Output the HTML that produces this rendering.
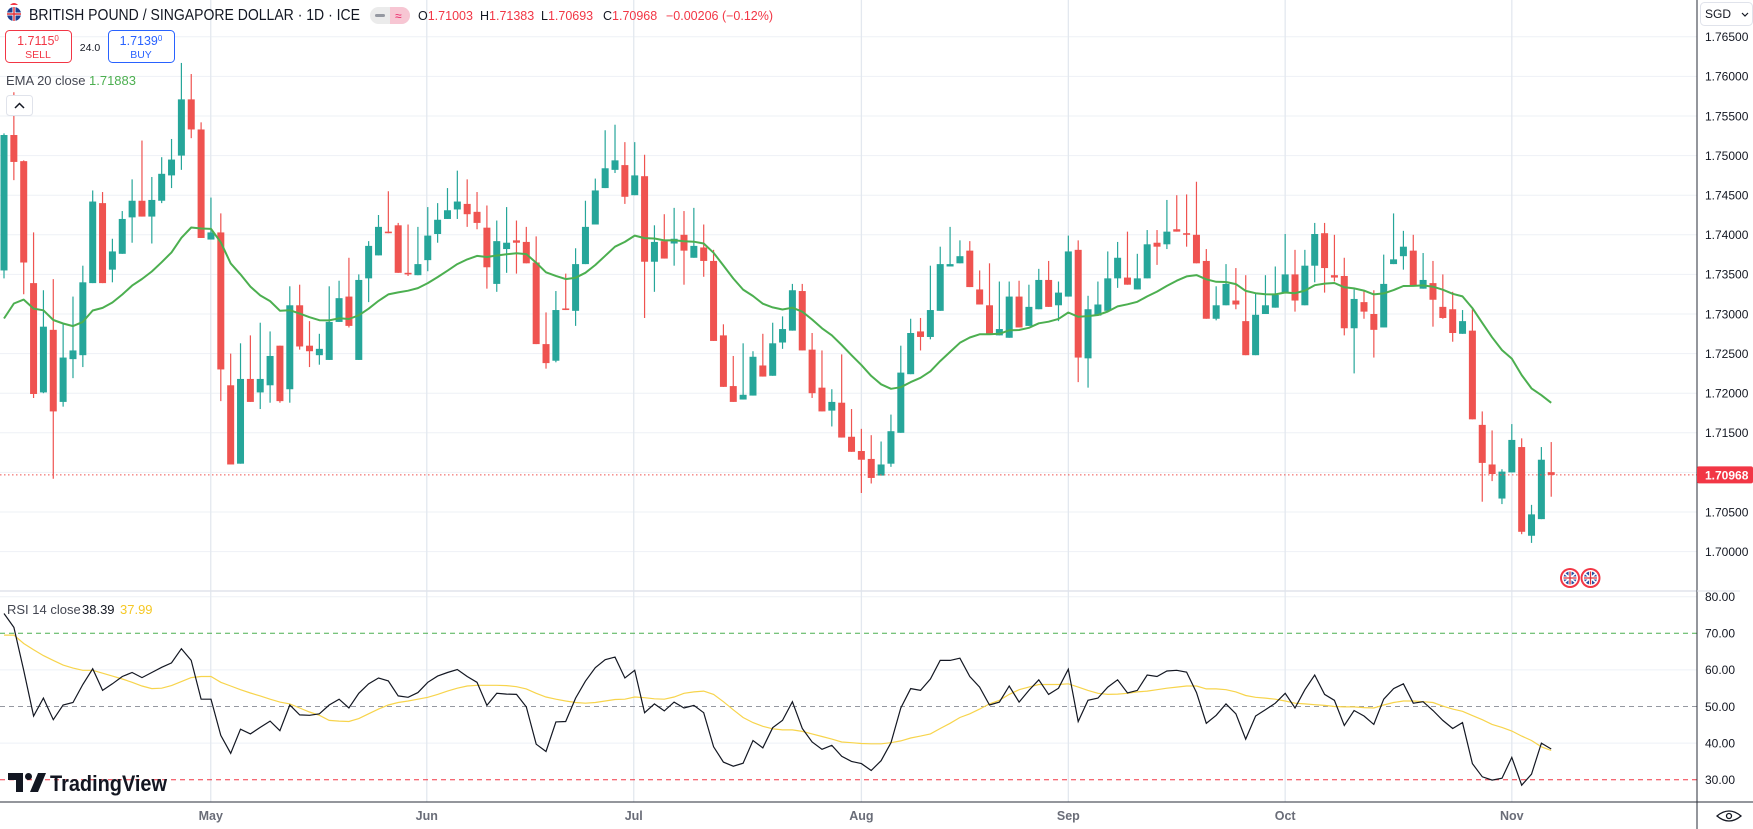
<!DOCTYPE html>
<html><head><meta charset="utf-8"><style>
html,body{margin:0;padding:0;background:#fff;}
svg{display:block;font-family:"Liberation Sans",sans-serif;}
</style></head><body>
<svg id="chart" xmlns="http://www.w3.org/2000/svg" width="1753" height="829" viewBox="0 0 1753 829">
<rect x="0" y="0" width="1753" height="829" fill="#ffffff"/>
<g id="grid"></g>
<g id="candles"></g>
<g id="ema"></g>
<g id="rsi"></g>
<g id="axes"></g>

<!-- header -->
<g>
  <g>
    <circle cx="14" cy="14" r="7" fill="#1f3f8f"/>
    <path d="M7 14h14M14 7v14" stroke="#fff" stroke-width="3"/>
    <path d="M7 14h14M14 7v14" stroke="#e0303a" stroke-width="1.4"/>
    <path d="M10 5 q4 -4 8 0" fill="#f23645"/>
  </g>
  <text x="29" y="20" font-size="16" fill="#131722" textLength="331" lengthAdjust="spacingAndGlyphs">BRITISH POUND / SINGAPORE DOLLAR · 1D · ICE</text>
  <g>
    <rect x="370" y="7" width="40" height="17" rx="8.5" fill="#ebebeb"/>
    <path d="M390 7 h11.5 a8.5 8.5 0 0 1 0 17 h-11.5 z" fill="#f7c6d3"/>
    <rect x="375" y="14" width="10" height="3" rx="1.5" fill="#9598a1"/>
    <text x="395" y="20" font-size="12" fill="#e91e63">≈</text>
  </g>
  <g font-size="12.5">
    <text x="418" y="20" fill="#131722">O<tspan fill="#f23645">1.71003</tspan></text>
    <text x="480" y="20" fill="#131722">H<tspan fill="#f23645">1.71383</tspan></text>
    <text x="541" y="20" fill="#131722">L<tspan fill="#f23645">1.70693</tspan></text>
    <text x="603" y="20" fill="#131722">C<tspan fill="#f23645">1.70968</tspan></text>
    <text x="666" y="20" fill="#f23645">−0.00206 (−0.12%)</text>
  </g>
</g>

<g>
  <rect x="5.5" y="30.5" width="66" height="32" rx="4" fill="#fff" stroke="#f23645"/>
  <text x="38" y="45" font-size="12.5" fill="#f23645" text-anchor="middle">1.7115<tspan font-size="8" dy="-4">0</tspan></text>
  <text x="38" y="58" font-size="10.5" fill="#f23645" text-anchor="middle">SELL</text>
</g>
<text x="90" y="51" font-size="10.5" fill="#131722" text-anchor="middle">24.0</text>
<g>
  <rect x="108.5" y="30.5" width="66" height="32" rx="4" fill="#fff" stroke="#2962ff"/>
  <text x="141" y="45" font-size="12.5" fill="#2962ff" text-anchor="middle">1.7139<tspan font-size="8" dy="-4">0</tspan></text>
  <text x="141" y="58" font-size="10.5" fill="#2962ff" text-anchor="middle">BUY</text>
</g>
<g>
  <text x="6" y="85" font-size="13" fill="#434651">EMA 20 close</text>
  <text x="89" y="85" font-size="13" fill="#4caf50">1.71883</text>
</g>
<g>
  <rect x="6.5" y="95.5" width="26" height="20" rx="3" fill="#fff" stroke="#e0e3eb"/>
  <polyline points="15,108 19.5,103.5 24,108" fill="none" stroke="#131722" stroke-width="1.5"/>
</g>
<g>
  <text x="7" y="614" font-size="13" fill="#434651">RSI 14 close</text>
  <text x="82" y="614" font-size="13" fill="#131722">38.39</text>
  <text x="120" y="614" font-size="13" fill="#f5c825">37.99</text>
</g>

<g>
  <path d="M8 773 h15 v19 h-7 v-12 h-8 z" fill="#131722"/>
  <circle cx="28.5" cy="776.5" r="3.5" fill="#131722"/>
  <path d="M30 792 l8 -19 h8 l-8 19 z" fill="#131722"/>
  <text x="50" y="791" font-size="22" font-weight="bold" fill="#131722" textLength="117" lengthAdjust="spacingAndGlyphs">TradingView</text>
</g>

<g>
  <g>
    <circle cx="1570" cy="578" r="10" fill="#f23645"/><circle cx="1570" cy="578" r="8" fill="#fff"/>
    <circle cx="1570" cy="578" r="6.5" fill="#2a4fa0"/>
    <path d="M1564 573 l12 10 M1576 573 l-12 10" stroke="#fff" stroke-width="1.5"/>
    <path d="M1563.5 578h13M1570 571.5v13" stroke="#fff" stroke-width="3"/>
    <path d="M1563.5 578h13M1570 571.5v13" stroke="#e0303a" stroke-width="1.3"/>
  </g>
  <g>
    <circle cx="1590.5" cy="578" r="10" fill="#f23645"/><circle cx="1590.5" cy="578" r="8" fill="#fff"/>
    <circle cx="1590.5" cy="578" r="6.5" fill="#2a4fa0"/>
    <path d="M1584.5 573 l12 10 M1596.5 573 l-12 10" stroke="#fff" stroke-width="1.5"/>
    <path d="M1584 578h13M1590.5 571.5v13" stroke="#fff" stroke-width="3"/>
    <path d="M1584 578h13M1590.5 571.5v13" stroke="#e0303a" stroke-width="1.3"/>
  </g>
</g>
</svg>
<script>
const opens=[1.7355,1.7526,1.7493,1.7339,1.7201,1.7280,1.7189,1.7243,1.7248,1.7339,1.7440,1.7356,1.7376,1.7422,1.7443,1.7423,1.7443,1.7475,1.7500,1.7571,1.7533,1.7394,1.7403,1.7210,1.7111,1.7218,1.7201,1.7210,1.7260,1.7205,1.7311,1.7260,1.7248,1.7242,1.7290,1.7322,1.7242,1.7345,1.7374,1.7404,1.7412,1.7352,1.7349,1.7368,1.7401,1.7420,1.7432,1.7439,1.7429,1.7409,1.7338,1.7382,1.7393,1.7391,1.7365,1.7262,1.7241,1.7307,1.7304,1.7363,1.7413,1.7459,1.7482,1.7488,1.7450,1.7474,1.7366,1.7392,1.7389,1.7400,1.7371,1.7384,1.7367,1.7273,1.7209,1.7192,1.7197,1.7235,1.7222,1.7264,1.7279,1.7329,1.7255,1.7207,1.7178,1.7188,1.7145,1.7127,1.7117,1.7096,1.7111,1.7150,1.7224,1.7278,1.7271,1.7304,1.7360,1.7364,1.7380,1.7331,1.7311,1.7273,1.7270,1.7322,1.7285,1.7306,1.7343,1.7311,1.7322,1.7381,1.7244,1.7298,1.7304,1.7345,1.7346,1.7331,1.7345,1.7390,1.7388,1.7407,1.7402,1.7400,1.7367,1.7294,1.7311,1.7317,1.7291,1.7248,1.7300,1.7308,1.7326,1.7350,1.7311,1.7361,1.7402,1.7349,1.7348,1.7282,1.7315,1.7300,1.7283,1.7363,1.7373,1.7380,1.7332,1.7339,1.7309,1.7306,1.7275,1.7279,1.7160,1.7110,1.7067,1.7100,1.7132,1.7020,1.7041,1.71003];
const highs=[1.7528,1.7580,1.7494,1.7403,1.7330,1.7344,1.7287,1.7322,1.7361,1.7456,1.7454,1.7395,1.7430,1.7470,1.7519,1.7473,1.7498,1.7521,1.7617,1.7603,1.7542,1.7447,1.7427,1.7250,1.7263,1.7273,1.7289,1.7278,1.7260,1.7335,1.7337,1.7291,1.7275,1.7335,1.7342,1.7371,1.7350,1.7392,1.7425,1.7455,1.7415,1.7413,1.7410,1.7435,1.7440,1.7459,1.7481,1.7470,1.7454,1.7437,1.7418,1.7435,1.7418,1.7410,1.7398,1.7302,1.7329,1.7351,1.7383,1.7443,1.7471,1.7532,1.7539,1.7517,1.7517,1.7501,1.7412,1.7426,1.7434,1.7430,1.7434,1.7413,1.7381,1.7287,1.7247,1.7263,1.7253,1.7275,1.7289,1.7297,1.7338,1.7338,1.7276,1.7254,1.7205,1.7249,1.7180,1.7155,1.7147,1.7139,1.7173,1.7260,1.7294,1.7295,1.7361,1.7385,1.7410,1.7393,1.7392,1.7355,1.7364,1.7341,1.7341,1.7342,1.7337,1.7357,1.7367,1.7341,1.7399,1.7393,1.7323,1.7341,1.7379,1.7391,1.7404,1.7376,1.7406,1.7406,1.7444,1.7450,1.7451,1.7467,1.7382,1.7335,1.7363,1.7358,1.7349,1.7327,1.7349,1.7360,1.7401,1.7381,1.7381,1.7415,1.7415,1.7400,1.7371,1.7331,1.7330,1.7330,1.7375,1.7427,1.7405,1.7400,1.7377,1.7367,1.7350,1.7328,1.7305,1.7306,1.7177,1.7153,1.7104,1.7161,1.7143,1.7059,1.7132,1.71383];
const lows=[1.7345,1.7469,1.7325,1.7194,1.7200,1.7092,1.7183,1.7219,1.7233,1.7339,1.7339,1.7340,1.7376,1.7390,1.7423,1.7389,1.7440,1.7459,1.7482,1.7522,1.7396,1.7394,1.7190,1.7110,1.7111,1.7189,1.7180,1.7188,1.7188,1.7188,1.7255,1.7233,1.7236,1.7242,1.7290,1.7283,1.7242,1.7315,1.7374,1.7402,1.7352,1.7348,1.7349,1.7354,1.7390,1.7420,1.7420,1.7410,1.7407,1.7332,1.7328,1.7352,1.7351,1.7364,1.7262,1.7231,1.7239,1.7305,1.7285,1.7363,1.7413,1.7459,1.7478,1.7439,1.7450,1.7295,1.7328,1.7370,1.7361,1.7337,1.7371,1.7347,1.7266,1.7208,1.7189,1.7192,1.7197,1.7221,1.7222,1.7256,1.7279,1.7254,1.7194,1.7177,1.7158,1.7144,1.7126,1.7074,1.7086,1.7096,1.7107,1.7150,1.7224,1.7254,1.7268,1.7304,1.7360,1.7364,1.7334,1.7312,1.7274,1.7273,1.7270,1.7283,1.7285,1.7306,1.7309,1.7291,1.7322,1.7214,1.7207,1.7298,1.7304,1.7333,1.7337,1.7331,1.7345,1.7362,1.7382,1.7404,1.7385,1.7364,1.7294,1.7292,1.7311,1.7306,1.7248,1.7248,1.7300,1.7308,1.7326,1.7303,1.7311,1.7340,1.7327,1.7341,1.7273,1.7225,1.7294,1.7245,1.7283,1.7363,1.7356,1.7336,1.7332,1.7284,1.7294,1.7265,1.7275,1.7167,1.7063,1.7089,1.7060,1.7100,1.7022,1.7011,1.7041,1.70693];
const closes=[1.7526,1.7492,1.7365,1.7199,1.7284,1.7177,1.7245,1.7254,1.7340,1.7442,1.7339,1.7379,1.7420,1.7443,1.7423,1.7444,1.7477,1.7495,1.7571,1.7533,1.7396,1.7403,1.7230,1.7110,1.7218,1.7189,1.7218,1.7247,1.7190,1.7311,1.7259,1.7253,1.7256,1.7290,1.7320,1.7285,1.7343,1.7386,1.7410,1.7402,1.7352,1.7350,1.7363,1.7399,1.7419,1.7431,1.7442,1.7426,1.7415,1.7359,1.7392,1.7390,1.7390,1.7364,1.7262,1.7238,1.7305,1.7305,1.7363,1.7410,1.7456,1.7484,1.7494,1.7448,1.7475,1.7366,1.7391,1.7370,1.7395,1.7380,1.7386,1.7367,1.7266,1.7208,1.7189,1.7198,1.7246,1.7221,1.7263,1.7281,1.7330,1.7254,1.7200,1.7177,1.7189,1.7144,1.7126,1.7116,1.7093,1.7110,1.7152,1.7226,1.7276,1.7271,1.7305,1.7363,1.7363,1.7373,1.7334,1.7312,1.7274,1.7281,1.7322,1.7283,1.7309,1.7343,1.7309,1.7327,1.7379,1.7245,1.7306,1.7312,1.7345,1.7371,1.7337,1.7345,1.7388,1.7385,1.7404,1.7404,1.7400,1.7364,1.7294,1.7311,1.7338,1.7312,1.7248,1.7299,1.7311,1.7324,1.7350,1.7317,1.7361,1.7401,1.7358,1.7346,1.7282,1.7319,1.7303,1.7280,1.7338,1.7369,1.7385,1.7336,1.7343,1.7318,1.7295,1.7276,1.7291,1.7167,1.7112,1.7098,1.7101,1.7141,1.7025,1.7047,1.7116,1.70968];
const emaSeed=1.7270;
const emaPeriod=20;
const rsiValues=[75.4,71.6,59.9,47.4,52.3,46.4,50.4,51.1,56.0,60.3,54.4,56.2,58.2,59.3,57.9,59.3,60.7,61.9,65.8,62.6,52.0,52.0,42.1,37.2,43.8,42.5,44.3,46.0,43.4,50.4,47.7,47.6,48.0,50.4,52.0,49.6,53.6,56.2,57.8,57.0,52.9,52.5,53.8,56.6,58.3,59.3,60.1,58.2,56.6,50.3,53.6,53.4,53.3,49.9,39.7,37.7,45.8,45.9,52.3,56.9,60.6,62.8,63.5,57.8,59.9,48.3,50.7,48.8,51.2,49.6,50.3,48.3,39.0,34.8,33.7,34.5,40.7,38.7,44.2,46.2,51.3,44.0,40.3,38.3,39.4,36.4,35.0,34.4,32.5,35.2,40.1,49.6,54.9,54.4,57.5,62.6,62.6,63.2,58.2,55.3,50.4,51.2,55.6,51.2,54.4,57.3,53.3,55.0,60.2,45.9,51.7,52.3,55.3,57.3,53.7,54.4,58.6,58.2,59.7,59.9,59.4,53.8,45.4,47.6,50.7,48.0,41.1,47.4,49.1,50.9,53.6,49.6,54.6,58.6,53.3,51.7,44.8,48.9,47.4,45.1,52.0,54.9,56.2,50.9,51.3,48.9,46.2,44.0,45.6,34.4,30.8,29.9,30.4,36.1,28.5,31.5,40.0,38.39];
const rsiMaValues=[69.5,69.5,67.2,65.5,63.9,62.6,61.3,60.5,59.9,59.9,59.1,58.3,57.5,56.6,55.6,54.9,55.0,55.7,56.8,57.9,58.2,58.2,56.6,55.6,54.6,53.7,52.9,52.0,51.2,50.7,49.6,48.5,47.6,46.2,46.0,45.9,46.7,48.0,49.3,50.4,51.1,51.5,52.0,52.5,53.3,54.2,55.0,55.6,55.8,55.8,55.8,55.7,55.4,54.8,53.6,52.6,52.0,51.5,51.1,50.9,51.1,51.5,51.9,52.0,52.6,52.4,52.1,52.0,52.6,53.6,54.0,54.2,53.3,51.3,49.1,47.0,45.6,44.6,43.9,43.6,43.6,43.2,42.5,41.8,41.1,40.3,40.1,39.9,39.8,39.8,40.1,40.6,41.4,41.9,42.5,44.0,45.4,47.0,48.0,49.3,50.7,51.7,53.3,54.6,55.3,56.0,56.0,56.0,56.2,55.3,54.4,53.6,53.3,53.4,53.6,54.0,54.2,54.6,55.0,55.3,55.6,55.6,54.8,54.8,54.6,54.0,53.0,52.5,52.3,52.0,51.5,50.9,50.7,50.5,50.3,50.0,49.9,49.9,49.7,49.6,50.4,51.1,51.5,51.5,51.3,51.1,50.1,49.3,48.7,47.5,46.4,45.1,44.3,43.3,41.9,40.7,39.0,37.99];
const priceTicks=[1.765,1.760,1.755,1.750,1.745,1.740,1.735,1.730,1.725,1.720,1.715,1.710,1.705,1.700];
const rsiTicks=[80,70,60,50,40,30];
const monthLabels=["Apr","May","Jun","Jul","Aug","Sep","Oct","Nov"];
const monthIndex=[-1.6,20.98,42.9,63.9,87,108,130,153];
const lastPrice=1.70968;

const NS="http://www.w3.org/2000/svg";
const PANE_R=1697;
function xi(i){return 4+i*9.855;}
function yp(p){return 36.8+(1.765-p)*7920;}
function yr(r){return 633.3+(70-r)*3.66;}
function mk(tag,attrs,parent){const e=document.createElementNS(NS,tag);for(const k in attrs)e.setAttribute(k,attrs[k]);parent.appendChild(e);return e;}

const grid=document.getElementById('grid');
priceTicks.forEach(p=>{
  const l=mk('line',{x1:0,x2:PANE_R,y1:yp(p),y2:yp(p),stroke:'#eef1f6','stroke-width':1},grid);
  
  
});
[80,60,40].forEach(r=>{
  const l=mk('line',{x1:0,x2:PANE_R,y1:yr(r),y2:yr(r),stroke:'#eef1f6','stroke-width':1},grid);
  
  
});
monthIndex.forEach((mi,k)=>{
  if(k===0)return;
  const x=xi(mi);
  const l=mk('line',{x1:x,x2:x,y1:0,y2:802,stroke:'#e3e8ef','stroke-width':1.3},grid);
  
  
});

const cg=document.getElementById('candles');
for(let i=0;i<closes.length;i++){
  const up=closes[i]>=opens[i];
  const col=up?'#26a69a':'#ef5350';
  const x=xi(i);
  const g=mk('g',{},cg);
  
  
  mk('line',{x1:x,x2:x,y1:yp(highs[i]),y2:yp(lows[i]),stroke:col,'stroke-width':1.2},g);
  const t=yp(Math.max(opens[i],closes[i])),b=yp(Math.min(opens[i],closes[i]));
  mk('rect',{x:x-3.5,y:t,width:7,height:Math.max(1.2,b-t),fill:col},g);
}

// EMA 20 derived from closes
const emaVals=[];let e=emaSeed;const k=2/(emaPeriod+1);
for(let i=0;i<closes.length;i++){e=e+k*(closes[i]-e);emaVals.push(e);}
const emaG=document.getElementById('ema');
const emaPath=mk('polyline',{points:emaVals.map((v,i)=>xi(i).toFixed(1)+','+yp(v).toFixed(1)).join(' '),fill:'none',stroke:'#4caf50','stroke-width':2,'stroke-linejoin':'round'},emaG);



// last price dotted line
const lp=mk('line',{x1:0,x2:PANE_R,y1:yp(lastPrice),y2:yp(lastPrice),stroke:'#ef5350','stroke-width':1,'stroke-dasharray':'1.5,2.5'},emaG);



// RSI pane
const rg=document.getElementById('rsi');
const sep=mk('line',{x1:0,x2:1753,y1:591,y2:591,stroke:'#e0e3eb','stroke-width':1.5},rg);


[[70,'#4caf50'],[50,'#9598a1'],[30,'#f23645']].forEach(([r,c])=>{
  const l=mk('line',{x1:0,x2:PANE_R,y1:yr(r),y2:yr(r),stroke:c,'stroke-width':1,'stroke-dasharray':'5,4'},rg);
  
  
});
const ma=mk('polyline',{points:rsiMaValues.map((v,i)=>xi(i).toFixed(1)+','+yr(v).toFixed(1)).join(' '),fill:'none',stroke:'#f7d44c','stroke-width':1.2},rg);


const rl=mk('polyline',{points:rsiValues.map((v,i)=>xi(i).toFixed(1)+','+yr(v).toFixed(1)).join(' '),fill:'none',stroke:'#131722','stroke-width':1.2},rg);



// axes
const ax=document.getElementById('axes');
mk('rect',{x:PANE_R,y:0,width:1753-PANE_R,height:829,fill:'#fff'},ax);
const va=mk('line',{x1:PANE_R,x2:PANE_R,y1:0,y2:829,stroke:'#2a2e39','stroke-width':1},ax);


const ha=mk('line',{x1:0,x2:1753,y1:802,y2:802,stroke:'#2a2e39','stroke-width':1},ax);


mk('line',{x1:PANE_R,x2:1740,y1:591,y2:591,stroke:'#e0e3eb','stroke-width':1},ax);
priceTicks.forEach(p=>{
  const t=mk('text',{x:1705,y:yp(p)+4.3,'font-size':12,fill:'#131722'},ax);
  t.textContent=p.toFixed(5);
  
  
});
rsiTicks.forEach(r=>{
  const t=mk('text',{x:1705,y:yr(r)+4.3,'font-size':12,fill:'#131722'},ax);
  t.textContent=r.toFixed(2);
  
  
});
monthLabels.forEach((m,k)=>{
  const t=mk('text',{x:xi(monthIndex[k]),y:820,'font-size':12.5,'font-weight':'bold',fill:'#6a6d78','text-anchor':'middle'},ax);
  t.textContent=m;
  
  
});
// last price tag
const tagG=mk('g',{},ax);


const ty=yp(lastPrice);
mk('rect',{x:PANE_R,y:ty-8.5,width:1753-PANE_R,height:17,rx:2,fill:'#f23645'},tagG);
const tt=mk('text',{x:1705,y:ty+4.5,'font-size':12,'font-weight':'bold',fill:'#fff'},tagG);
tt.textContent=lastPrice.toFixed(5);
// currency selector
const cs=mk('g',{},ax);


mk('rect',{x:1700.5,y:2.5,width:52,height:23,rx:4,fill:'#fff',stroke:'#e0e3eb'},cs);
const ct=mk('text',{x:1705,y:18,'font-size':12,fill:'#131722'},cs);
ct.textContent='SGD';
mk('polyline',{points:'1742,13 1745,16 1748,13',fill:'none',stroke:'#131722','stroke-width':1.2},cs);
// settings eye icon
const eye=mk('g',{},ax);


mk('path',{d:'M1717 816 q12 -10 24 0 q-12 10 -24 0 z',fill:'none',stroke:'#131722','stroke-width':1.3},eye);
mk('circle',{cx:1729,cy:816,r:2.5,fill:'none',stroke:'#131722','stroke-width':1.3},eye);
</script>
</body></html>
